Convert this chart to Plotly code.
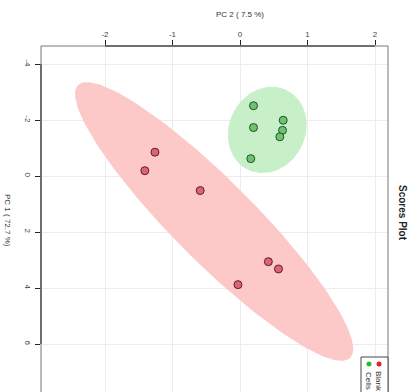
import numpy as np
import plotly.graph_objects as go

# PCA scores (PC2 horizontal, PC1 vertical)
blank_pc2 = [-1.26, -1.41, -0.59, 0.42, 0.57, -0.03]
blank_pc1 = [-0.85, -0.19, 0.52, 3.06, 3.32, 3.88]
cells_pc2 = [0.20, 0.20, 0.64, 0.63, 0.59, 0.16]
cells_pc1 = [-2.51, -1.73, -1.99, -1.63, -1.40, -0.62]

groups = ["Blank", "Cells"]
pc2_ticks = [-2, -1, 0, 1, 2]
pc1_ticks = [-4, -2, 0, 2, 4, 6]
pc2_ticktext = ["-2", "-1", "0", "1", "2"]
pc1_ticktext = ["-4", "-2", "0", "2", "4", "6"]
pc2_label = "PC 2 ( 7.5 %)"
pc1_label = "PC 1 ( 72.7 %)"

FONT = "Liberation Sans, Arial, sans-serif"
W, H = 418, 392
L, R, T, B = 41, 30, 46, 0


def conf_ellipse(x, y, level_chi2=5.991, n=200):
    """95% confidence ellipse of a 2-D point cloud."""
    x = np.asarray(x, float)
    y = np.asarray(y, float)
    cov = np.cov(x, y)
    vals, vecs = np.linalg.eigh(cov)
    t = np.linspace(0, 2 * np.pi, n)
    circ = np.vstack([np.cos(t), np.sin(t)])
    pts = vecs @ (np.sqrt(vals * level_chi2)[:, None] * circ)
    return pts[0] + x.mean(), pts[1] + y.mean()


fig = go.Figure()

ex, ey = conf_ellipse(blank_pc2, blank_pc1)
fig.add_trace(go.Scatter(x=ex, y=ey, mode="lines", fill="toself",
                         fillcolor="rgb(252,200,200)", line=dict(width=0),
                         hoverinfo="skip", showlegend=False))
ex, ey = conf_ellipse(cells_pc2, cells_pc1)
fig.add_trace(go.Scatter(x=ex, y=ey, mode="lines", fill="toself",
                         fillcolor="rgb(200,240,200)", line=dict(width=0),
                         hoverinfo="skip", showlegend=False))

fig.add_trace(go.Scatter(x=blank_pc2, y=blank_pc1, mode="markers", name=groups[0],
                         marker=dict(size=8, color="#dc6470",
                                     line=dict(color="#5a2026", width=1)),
                         showlegend=False))
fig.add_trace(go.Scatter(x=cells_pc2, y=cells_pc1, mode="markers", name=groups[1],
                         marker=dict(size=8, color="#6cc46c",
                                     line=dict(color="#24502a", width=1)),
                         showlegend=False))

pw = W - L - R
ph = H - T - B
x0 = (L - 240) / 67.5
x1 = (W - R - 240) / 67.5
y_top = (T - 176) / 28
y_bot = (H - B - 176) / 28


def px(xpix):
    return (xpix - L) / pw


def py(ypix):
    return (H - B - ypix) / ph


shapes = [
    # plot frame (runs past the bottom edge of the page)
    dict(type="rect", xref="paper", yref="paper", x0=0, x1=1, y0=-0.1, y1=1,
         line=dict(color="#777777", width=1)),
    # axis lines spanning the tick range
    dict(type="line", xref="x", yref="paper", x0=pc2_ticks[0], x1=pc2_ticks[-1],
         y0=1, y1=1, line=dict(color="#222222", width=1)),
    dict(type="line", xref="paper", yref="y", x0=0, x1=0,
         y0=pc1_ticks[0], y1=pc1_ticks[-1], line=dict(color="#222222", width=1)),
    # legend box
    dict(type="rect", xref="paper", yref="paper", x0=px(361), x1=1,
         y0=-0.1, y1=py(357), line=dict(color="#444444", width=1),
         fillcolor="white"),
]
legend_cols = ["#e8202a", "#2cb82c"]
legend_x = [379, 369]
for col, lx in zip(legend_cols, legend_x):
    shapes.append(dict(type="circle", xref="paper", yref="paper",
                       xsizemode="pixel", ysizemode="pixel",
                       xanchor=px(lx), yanchor=py(364),
                       x0=-2.5, x1=2.5, y0=-2.5, y1=2.5,
                       fillcolor=col, line=dict(width=0)))

annotations = [
    dict(text=pc2_label, xref="paper", yref="paper", x=px(240), y=py(15),
         showarrow=False, font=dict(size=8, color="#333333", family=FONT),
         xanchor="center", yanchor="middle"),
    dict(text=pc1_label, xref="paper", yref="paper", x=px(8), y=py(220),
         showarrow=False, textangle=90, font=dict(size=8, color="#333333", family=FONT),
         xanchor="center", yanchor="middle"),
    dict(text="<b>Scores Plot</b>", xref="paper", yref="paper", x=px(402), y=py(213),
         showarrow=False, textangle=90, font=dict(size=10, color="#222222", family=FONT),
         xanchor="center", yanchor="middle"),
]
for name, lx in zip(groups, legend_x):
    annotations.append(dict(text=name, xref="paper", yref="paper",
                            x=px(lx), y=py(381), showarrow=False, textangle=90,
                            font=dict(size=8, color="#333333", family=FONT),
                            xanchor="center", yanchor="middle"))

fig.update_layout(
    width=W, height=H,
    margin=dict(l=L, r=R, t=T, b=B, pad=0),
    paper_bgcolor="white", plot_bgcolor="white",
    font=dict(family=FONT, size=8, color="#333333"),
    shapes=shapes, annotations=annotations,
    xaxis=dict(side="top", range=[x0, x1], tickvals=pc2_ticks, ticktext=pc2_ticktext,
               ticks="outside", ticklen=5, tickcolor="#222222",
               showline=False, zeroline=False, showgrid=True,
               gridcolor="#ececec", gridwidth=1,
               tickfont=dict(size=8, color="#444444")),
    yaxis=dict(range=[y_bot, y_top], tickvals=pc1_ticks, ticktext=pc1_ticktext,
               ticks="outside", ticklen=5, tickcolor="#222222", tickangle=90,
               showline=False, zeroline=False, showgrid=True,
               gridcolor="#ececec", gridwidth=1,
               tickfont=dict(size=8, color="#444444")),
)

fig.write_html("out.html")
